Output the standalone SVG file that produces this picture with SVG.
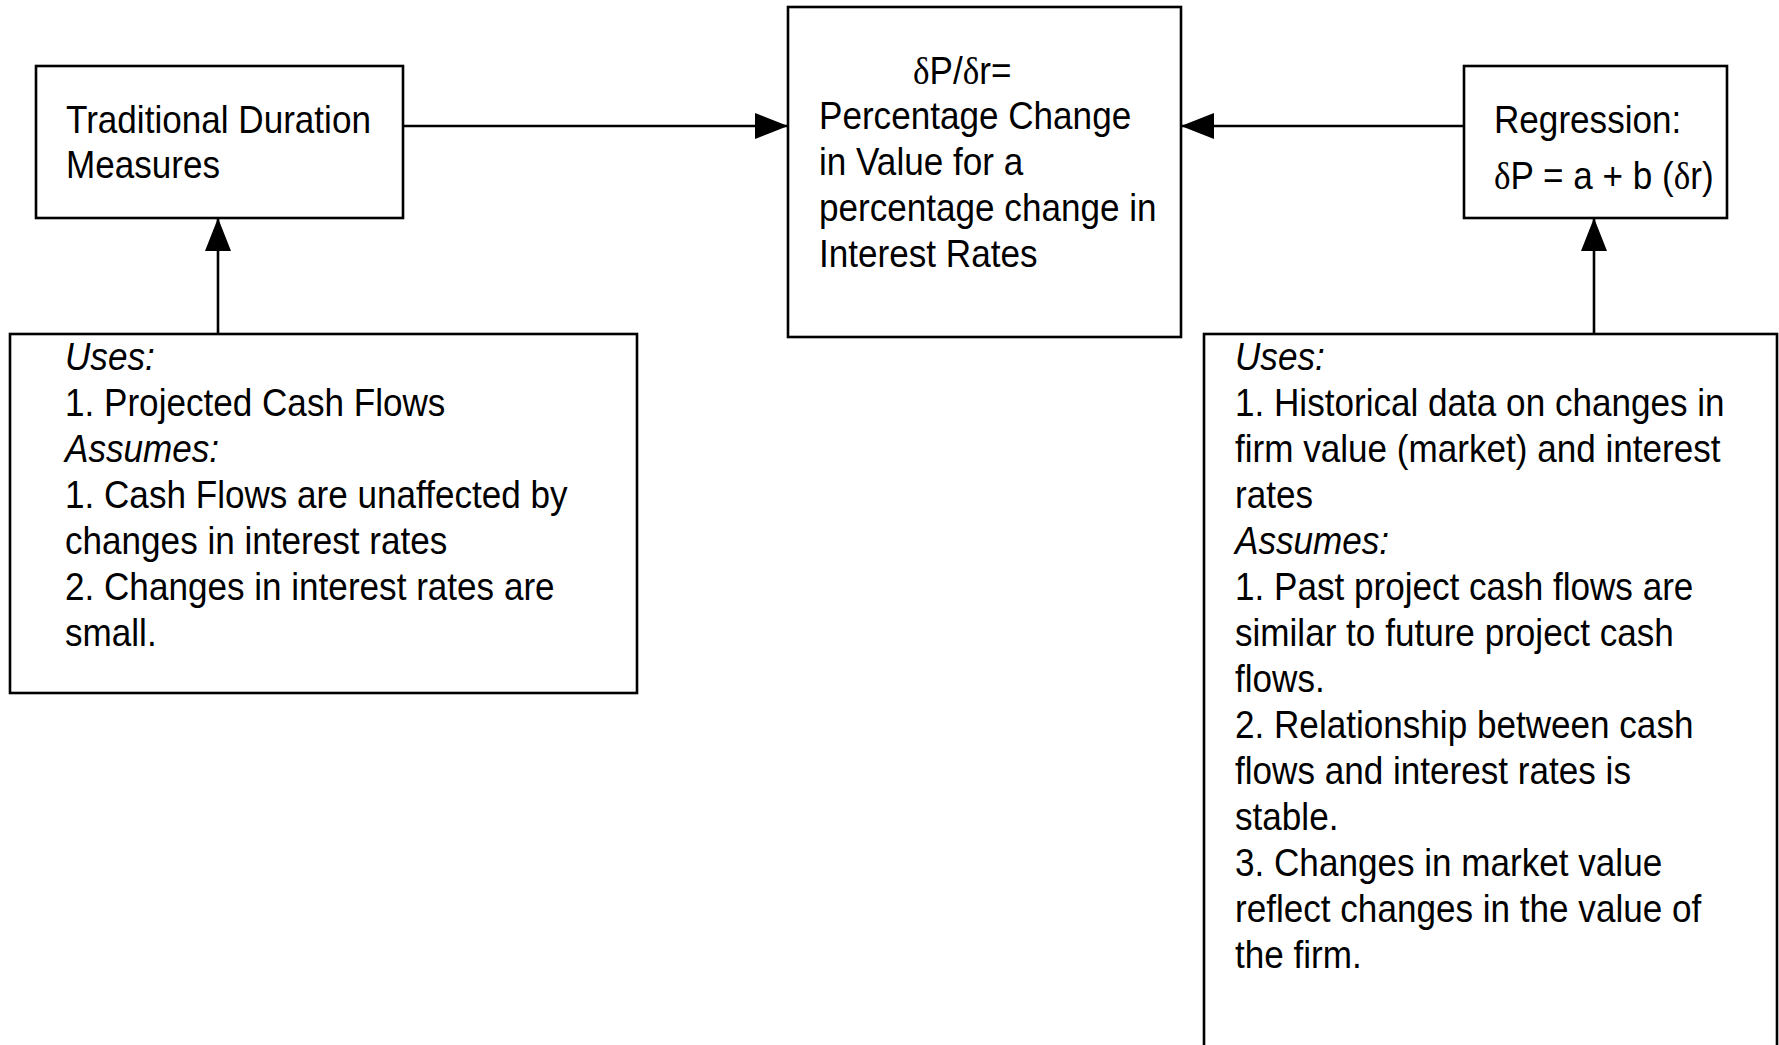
<svg xmlns="http://www.w3.org/2000/svg" width="1779" height="1045" viewBox="0 0 1779 1045">
  <style>
    .box { fill: #ffffff; stroke: #000000; stroke-width: 2.6; }
    .edge { fill: none; stroke: #000000; stroke-width: 2.6; }
    .t { font-family: "Liberation Sans", Arial, Helvetica, sans-serif; font-size: 39px; fill: #000000; }
    .it { font-style: italic; }
    .sym { font-family: "Liberation Serif", "Times New Roman", serif; }
  </style>
  <defs>
    <marker id="arrow" markerUnits="userSpaceOnUse" markerWidth="34" markerHeight="26" viewBox="0 0 34 26" refX="33" refY="13" orient="auto">
      <path d="M0,0 L33,13 L0,26 Z" fill="#000000"/>
    </marker>
  </defs>
  <rect width="1779" height="1045" fill="#ffffff"/>

  <!-- connectors -->
  <g id="connectors">
    <line class="edge" x1="403" y1="126" x2="788" y2="126" marker-end="url(#arrow)"/>
    <line class="edge" x1="1464" y1="126" x2="1181" y2="126" marker-end="url(#arrow)"/>
    <line class="edge" x1="218" y1="334" x2="218" y2="218" marker-end="url(#arrow)"/>
    <line class="edge" x1="1594" y1="334" x2="1594" y2="218" marker-end="url(#arrow)"/>
  </g>

  <!-- Traditional duration -->
  <g id="traditional-duration">
    <rect class="box" x="36" y="66" width="367" height="152"/>
    <g transform="translate(66 0) scale(0.9 1)">
      <text class="t" x="0" y="133">Traditional Duration</text>
      <text class="t" x="0" y="178">Measures</text>
    </g>
  </g>

  <!-- Sensitivity definition -->
  <g id="sensitivity">
    <rect class="box" x="788" y="7" width="393" height="330"/>
    <g transform="translate(913 0) scale(0.9 1)">
      <text class="t" x="0" y="84"><tspan class="sym">δ</tspan>P/<tspan class="sym">δ</tspan>r=</text>
    </g>
    <g transform="translate(819 0) scale(0.9 1)">
      <text class="t" x="0" y="129">Percentage Change</text>
      <text class="t" x="0" y="175">in Value for a</text>
      <text class="t" x="0" y="221">percentage change in</text>
      <text class="t" x="0" y="267">Interest Rates</text>
    </g>
  </g>

  <!-- Regression -->
  <g id="regression">
    <rect class="box" x="1464" y="66" width="263" height="152"/>
    <g transform="translate(1494 0) scale(0.9 1)">
      <text class="t" x="0" y="133">Regression:</text>
      <text class="t" x="0" y="189"><tspan class="sym">δ</tspan>P = a + b (<tspan class="sym">δ</tspan>r)</text>
    </g>
  </g>

  <!-- Duration inputs and assumptions -->
  <g id="duration-assumptions">
    <rect class="box" x="10" y="334" width="627" height="359"/>
    <g transform="translate(65 0) scale(0.9 1)">
      <text class="t it" x="0" y="370">Uses:</text>
      <text class="t" x="0" y="416">1. Projected Cash Flows</text>
      <text class="t it" x="0" y="462">Assumes:</text>
      <text class="t" x="0" y="508">1. Cash Flows are unaffected by</text>
      <text class="t" x="0" y="554">changes in interest rates</text>
      <text class="t" x="0" y="600">2. Changes in interest rates are</text>
      <text class="t" x="0" y="646">small.</text>
    </g>
  </g>

  <!-- Regression inputs and assumptions -->
  <g id="regression-assumptions">
    <rect class="box" x="1204" y="334" width="573" height="740"/>
    <g transform="translate(1235 0) scale(0.9 1)">
      <text class="t it" x="0" y="370">Uses:</text>
      <text class="t" x="0" y="416">1. Historical data on changes in</text>
      <text class="t" x="0" y="462">firm value (market) and interest</text>
      <text class="t" x="0" y="508">rates</text>
      <text class="t it" x="0" y="554">Assumes:</text>
      <text class="t" x="0" y="600">1. Past project cash flows are</text>
      <text class="t" x="0" y="646">similar to future project cash</text>
      <text class="t" x="0" y="692">flows.</text>
      <text class="t" x="0" y="738">2. Relationship between cash</text>
      <text class="t" x="0" y="784">flows and interest rates is</text>
      <text class="t" x="0" y="830">stable.</text>
      <text class="t" x="0" y="876">3. Changes in market value</text>
      <text class="t" x="0" y="922">reflect changes in the value of</text>
      <text class="t" x="0" y="968">the firm.</text>
    </g>
  </g>
</svg>
